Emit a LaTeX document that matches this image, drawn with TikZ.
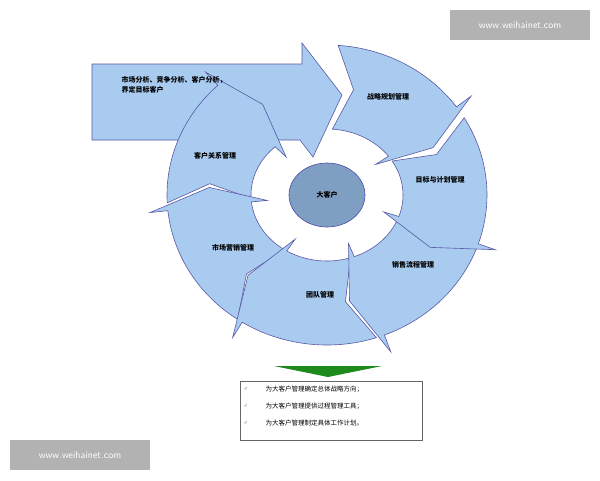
\documentclass[tikz,border=0pt]{standalone}
\usepackage{fontspec}
\usetikzlibrary{shapes.geometric}
\setmainfont{Noto Sans CJK SC}
\newfontfamily\cjk{Noto Sans CJK SC}
\newfontfamily\djv{DejaVu Sans}
\begin{document}
\begin{tikzpicture}[x=1pt,y=-1pt,
  seg/.style={fill=segblue,draw=gray!70!blue,line width=0.6pt},
  lbl/.style={font=\cjk\fontsize{7}{8}\selectfont\bfseries,text=black},
  wm/.style={fill=black!30,draw=none,text=white,font=\fontsize{10}{12}\selectfont\sffamily}]
\definecolor{segblue}{HTML}{A9CBF0}
\definecolor{hub}{HTML}{7E9FC2}
\definecolor{gr}{HTML}{1E8A1E}
\useasboundingbox (0,0) rectangle (600,480);
\fill[white] (0,0) rectangle (600,480);
% big entry arrow
\draw[seg] (92,64) -- (302,64) -- (302,43) -- (342,95) -- (313,157) -- (300,140) -- (92,140) -- cycle;
\begin{scope}[shift={(327,195)}]
\foreach \c in {205,152,100,47,-3,-58}{
  \pgfmathsetmacro{\s}{\c-28}
  \pgfmathsetmacro{\e}{\c+22}
  \pgfmathsetmacro{\t}{\c+32}
  \pgfmathsetmacro{\n}{\c-19}
  \draw[seg,line join=miter] (\s:160 and 150) arc[start angle=\s,end angle=\e,x radius=160,y radius=150]
    -- (\e:178 and 168) -- (\t:118 and 108) -- (\e:60 and 52) -- (\e:76 and 66)
    arc[start angle=\e,end angle=\s,x radius=76,y radius=66] -- (\n:118 and 108) -- cycle;
}
\node[ellipse,minimum width=76pt,minimum height=64pt,fill=hub,draw=gray!60!blue,line width=0.6pt] (hubn) at (0,0) {};
\end{scope}
\node[lbl] (hubt) at (327,195) {大客户};
\node[lbl,align=left,anchor=west] (intro) at (118,85) {市场分析、竞争分析、客户分析，\\[2pt]界定目标客户};
\node[lbl] (s1) at (388,97) {战略规划管理};
\node[lbl] (s2) at (440,180) {目标与计划管理};
\node[lbl] (s3) at (413,265) {销售流程管理};
\node[lbl] (s4) at (320,295) {团队管理};
\node[lbl] (s5) at (233,248) {市场营销管理};
\node[lbl] (s6) at (215,156) {客户关系管理};
% down arrow and box
\fill[gr] (274,366) -- (382,366) -- (328,377) -- cycle;
\draw[black!60,line width=0.5pt] (240,381) rectangle (422,440);
\foreach \y/\tx in {389/为大客户管理确定总体战略方向；,406/为大客户管理提供过程管理工具；,423/为大客户管理制定具体工作计划。}{
  \node[font=\djv\fontsize{5}{6}\selectfont,text=black!60] at (246,\y) {✓};
  \node[lbl,anchor=west,font=\cjk\fontsize{6.5}{8}\selectfont] at (262,\y) {\tx};
}
\node[wm,minimum width=140pt,minimum height=30pt] (w1) at (520,25) {www.weihainet.com};
\node[wm,minimum width=140pt,minimum height=30pt] (w2) at (80,455) {www.weihainet.com};
\end{tikzpicture}
\end{document}
